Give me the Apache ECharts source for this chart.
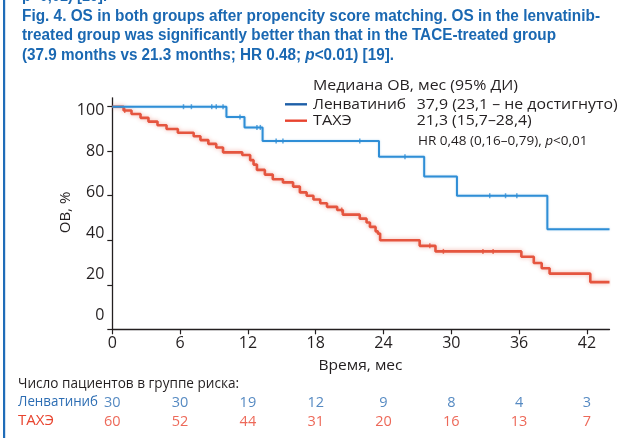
<!DOCTYPE html>
<html><head><meta charset="utf-8">
<script src="https://cdn.jsdelivr.net/npm/echarts@6/dist/echarts.min.js"></script>
<style>html,body{margin:0;padding:0;background:#fff}#c{width:627px;height:438px}</style>
</head><body><div id="c"></div>
<script>
// ---- data ----
const xTicks = [0, 6, 12, 18, 24, 30, 36, 42];
const yTicks = [0, 20, 40, 60, 80, 100];
const groupNames = ['Ленватиниб', 'ТАХЭ'];
const lenvaSteps = [[0,100],[10.1,95.4],[11.7,90.7],[13.3,84.6],[23.6,77.5],[27.6,68.6],[30.5,60.0],[38.5,45.0],[44.0,45.0]];
const lenvaCensored = [[6.3,100],[7.0,100],[8.8,100],[9.2,100],[9.8,100],[11.3,95.4],[12.8,90.7],[13.1,90.7],[14.5,84.6],[15.1,84.6],[21.9,84.6],[25.9,77.5],[33.4,60],[34.8,60],[35.8,60]];
const taceSteps = [[0,100],[1.0,98.3],[1.7,96.7],[2.5,95.0],[3.2,93.3],[4.0,91.7],[4.8,90.0],[5.8,88.3],[7.2,86.7],[7.8,85.0],[8.5,83.3],[9.2,81.7],[9.8,79.5],[11.5,78.3],[12.2,76.0],[12.5,74.0],[12.8,71.6],[13.5,69.5],[14.2,67.4],[15.1,66.0],[16.0,64.1],[16.6,61.5],[17.2,60.0],[17.8,58.3],[18.4,56.6],[19.0,55.0],[19.9,53.6],[20.4,51.5],[21.9,49.7],[22.5,48.0],[22.8,46.0],[23.3,44.0],[23.5,43.0],[23.7,40.0],[27.2,37.5],[28.6,35.0],[36.2,32.6],[37.3,29.8],[38.0,27.4],[38.7,25.0],[42.3,21.2],[44.0,21.2]];
const taceCensored = [[1.1,98.3],[20.3,53.6],[28.1,37.5],[29.3,35.0],[32.8,35.0],[33.7,35.0]];
const riskLenva = [30, 30, 19, 12, 9, 8, 4, 3];
const riskTace = [60, 52, 44, 31, 20, 16, 13, 7];

// ---- style ----
const BLUE = '#2f8ed6', RED = '#e5553f', DARK = '#231f20';
const LBLUE = '#1d5fa8', LRED = '#e8432f', TBLUE = '#2c6db3', TRED = '#e8442f';
const TITLE = '#1a68b2';
const BODY = 'Open Sans';

const cv = document.createElement('canvas').getContext('2d');
function fitText(text, x, y, target, o) {
  const size = o.size, weight = o.weight || 'normal', family = o.family || BODY;
  cv.font = weight + ' ' + size + 'px "' + family + '"';
  const w = cv.measureText(o.plain || text).width;
  return {
    type: 'text', x: x, y: y, scaleX: target / w, rotation: o.rotation || 0, z: 10,
    style: { text: text, fontSize: size, fontWeight: weight, fontFamily: family, fill: o.color || DARK,
      textAlign: o.align || 'left', textVerticalAlign: 'middle', rich: o.rich }
  };
}

const chart = echarts.init(document.getElementById('c'), null, { renderer: 'canvas' });
const gLeft = 112.3, gRight = 17.5;
const axisLbl = { fontFamily: BODY, fontSize: 16, color: DARK };

chart.setOption({
  animation: false,
  grid: [
    { left: gLeft, right: gRight, top: 97.8, bottom: 108.7 },
    { left: gLeft, right: gRight, top: 393, height: 38 }
  ],
  xAxis: [
    { type: 'value', gridIndex: 0, min: 0, max: 44, interval: 6,
      axisLine: { lineStyle: { color: DARK, width: 1.3 } },
      axisTick: { show: true, length: 5, lineStyle: { color: DARK, width: 1.2 }, customValues: xTicks },
      axisLabel: Object.assign({ margin: 6, customValues: xTicks }, axisLbl),
      splitLine: { show: false } },
    { type: 'value', gridIndex: 1, min: 0, max: 44, show: false }
  ],
  yAxis: [
    { type: 'value', gridIndex: 0, min: 0, max: 104, interval: 20,
      axisLine: { show: true, lineStyle: { color: DARK, width: 1.3 } },
      axisTick: { show: true, length: 5, lineStyle: { color: DARK, width: 1.2 }, customValues: yTicks },
      axisLabel: { show: false }, splitLine: { show: false } },
    { type: 'value', gridIndex: 0, min: -6.98, max: 105.95, position: 'left',
      axisLine: { show: false }, axisTick: { show: false }, splitLine: { show: false },
      axisLabel: Object.assign({ margin: 8, customValues: yTicks }, axisLbl) },
    { type: 'category', gridIndex: 1, data: groupNames, inverse: true, show: false }
  ],
  series: [
    { type: 'line', step: 'end', symbol: 'none', data: taceSteps, xAxisIndex: 0, yAxisIndex: 0, z: 2,
      lineStyle: { color: RED, width: 2.6, shadowBlur: 4, shadowColor: 'rgba(229,85,63,0.45)' } },
    { type: 'scatter', data: taceCensored, symbol: 'rect', symbolSize: [1.5, 5], xAxisIndex: 0, yAxisIndex: 0, z: 2,
      itemStyle: { color: RED } },
    { type: 'line', step: 'end', symbol: 'none', data: lenvaSteps, xAxisIndex: 0, yAxisIndex: 0, z: 3,
      lineStyle: { color: BLUE, width: 2, shadowBlur: 2, shadowColor: 'rgba(47,142,214,0.35)' } },
    { type: 'scatter', data: lenvaCensored, symbol: 'rect', symbolSize: [1.5, 5], xAxisIndex: 0, yAxisIndex: 0, z: 3,
      itemStyle: { color: BLUE } },
    { type: 'scatter', xAxisIndex: 1, yAxisIndex: 2, symbolSize: 1, itemStyle: { color: 'rgba(0,0,0,0)' },
      data: xTicks.map((x, i) => [x, 0, riskLenva[i]]),
      label: { show: true, position: 'inside', formatter: p => p.value[2], color: TBLUE, fontFamily: BODY, fontSize: 14.5 } },
    { type: 'scatter', xAxisIndex: 1, yAxisIndex: 2, symbolSize: 1, itemStyle: { color: 'rgba(0,0,0,0)' },
      data: xTicks.map((x, i) => [x, 1, riskTace[i]]),
      label: { show: true, position: 'inside', formatter: p => p.value[2], color: TRED, fontFamily: BODY, fontSize: 14.5 } }
  ],
  graphic: [
    { type: 'rect', shape: { x: 3, y: 0, width: 2.2, height: 438 }, style: { fill: '#1f6cb8' } },
    fitText('p<0,01) [19].', 22, -3.5, 85, { size: 16, weight: 'bold', family: 'Liberation Sans', color: TITLE }),
    fitText('Fig. 4. OS in both groups after propencity score matching. OS in the lenvatinib-', 22, 16.3, 578, { size: 16, weight: 'bold', family: 'Liberation Sans', color: TITLE }),
    fitText('treated group was significantly better than that in the TACE-treated group', 22, 35.8, 534, { size: 16, weight: 'bold', family: 'Liberation Sans', color: TITLE }),
    fitText('(37.9 months vs 21.3 months; HR 0.48; {i|p}<0.01) [19].', 22, 55.3, 372, { size: 16, weight: 'bold', family: 'Liberation Sans', color: TITLE,
      plain: '(37.9 months vs 21.3 months; HR 0.48; p<0.01) [19].', rich: { i: { fontStyle: 'italic', fontWeight: 'bold', fontSize: 16, fontFamily: 'Liberation Sans', fill: TITLE } } }),
    // legend
    fitText('Медиана ОВ, мес (95% ДИ)', 313, 86, 205, { size: 15 }),
    { type: 'line', shape: { x1: 285, y1: 104.3, x2: 307, y2: 104.3 }, style: { stroke: LBLUE, lineWidth: 2.4 } },
    fitText('Ленватиниб', 313, 104.3, 93, { size: 15 }),
    fitText('37,9 (23,1 – не достигнуто)', 416.7, 104.3, 201, { size: 15 }),
    { type: 'line', shape: { x1: 285, y1: 120.7, x2: 307, y2: 120.7 }, style: { stroke: LRED, lineWidth: 2.4 } },
    fitText('ТАХЭ', 313, 120.7, 38.7, { size: 15 }),
    fitText('21,3 (15,7–28,4)', 416.7, 120.7, 115, { size: 15 }),
    fitText('HR 0,48 (0,16–0,79), {i|p}<0,01', 418, 141.7, 170, { size: 12.5, plain: 'HR 0,48 (0,16–0,79), p<0,01',
      rich: { i: { fontStyle: 'italic', fontSize: 12.5, fontFamily: BODY, fill: DARK } } }),
    // axis names
    fitText('ОВ, %', 65.7, 212.5, 41.6, { size: 15, align: 'center', rotation: Math.PI / 2 }),
    fitText('Время, мес', 360.5, 366, 84, { size: 15, align: 'center' }),
    // risk table labels
    fitText('Число пациентов в группе риска:', 18, 384, 221, { size: 14 }),
    fitText('Ленватиниб', 18, 402.5, 80, { size: 14, color: TBLUE }),
    fitText('ТАХЭ', 18, 421.5, 36, { size: 14, color: TRED })
  ]
});
</script></body></html>
